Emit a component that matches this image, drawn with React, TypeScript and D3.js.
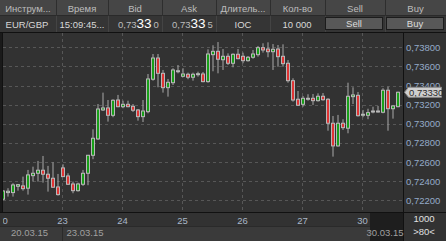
import React from "react";
import * as d3 from "d3";

const openP = [0.72212,0.72281,0.72281,0.72347,0.72351,0.72327,0.72458,0.72483,0.72515,0.72473,0.72431,0.72340,0.72539,0.72455,0.72371,0.72301,0.72368,0.72483,0.72671,0.72842,0.73145,0.73166,0.73089,0.73249,0.73179,0.73204,0.73183,0.73145,0.73075,0.73127,0.73466,0.73688,0.73528,0.73378,0.73430,0.73552,0.73497,0.73518,0.73487,0.73518,0.73521,0.73441,0.73723,0.73758,0.73670,0.73706,0.73633,0.73727,0.73706,0.73660,0.73696,0.73723,0.73796,0.73782,0.73754,0.73782,0.73706,0.73633,0.73451,0.73257,0.73204,0.73263,0.73267,0.73242,0.73288,0.73257,0.73006,0.72769,0.73006,0.72954,0.73284,0.73298,0.73096,0.73089,0.73127,0.73127,0.73121,0.73351,0.73158,0.73179];
const highP = [0.72305,0.72327,0.72379,0.72371,0.72448,0.72518,0.72552,0.72612,0.72664,0.72560,0.72598,0.72476,0.72577,0.72483,0.72396,0.72385,0.72518,0.72675,0.72943,0.73207,0.73326,0.73249,0.73257,0.73302,0.73242,0.73242,0.73207,0.73155,0.73249,0.73521,0.73730,0.73730,0.73563,0.73469,0.73581,0.73615,0.73581,0.73535,0.73535,0.73545,0.73542,0.73779,0.73821,0.73855,0.73782,0.73737,0.73737,0.73782,0.73744,0.73709,0.73772,0.73814,0.73842,0.73852,0.73834,0.73824,0.73831,0.73667,0.73476,0.73343,0.73291,0.73309,0.73312,0.73319,0.73322,0.73267,0.73082,0.73093,0.73048,0.73430,0.73382,0.73333,0.73145,0.73158,0.73179,0.73187,0.73372,0.73388,0.73197,0.73336];
const lowP = [0.72200,0.72239,0.72239,0.72301,0.72301,0.72260,0.72396,0.72396,0.72385,0.72291,0.72333,0.72249,0.72445,0.72361,0.72274,0.72291,0.72351,0.72358,0.72630,0.72831,0.73134,0.73023,0.73069,0.73173,0.73163,0.73173,0.73124,0.73033,0.73019,0.73110,0.73451,0.73382,0.73326,0.73284,0.73406,0.73528,0.73487,0.73466,0.73451,0.73493,0.73434,0.73430,0.73549,0.73528,0.73563,0.73615,0.73591,0.73675,0.73633,0.73650,0.73681,0.73702,0.73744,0.73696,0.73563,0.73597,0.73597,0.73430,0.73232,0.73187,0.73179,0.73242,0.73197,0.73232,0.73242,0.72928,0.72657,0.72761,0.72936,0.72901,0.73207,0.73075,0.73069,0.73048,0.73110,0.73117,0.73110,0.72928,0.73054,0.73173];
const closeP = [0.72298,0.72295,0.72361,0.72364,0.72322,0.72466,0.72483,0.72515,0.72473,0.72431,0.72337,0.72260,0.72448,0.72368,0.72301,0.72371,0.72483,0.72671,0.72849,0.73155,0.73166,0.73089,0.73246,0.73179,0.73204,0.73179,0.73142,0.73075,0.73134,0.73469,0.73688,0.73528,0.73378,0.73434,0.73563,0.73555,0.73521,0.73487,0.73518,0.73524,0.73441,0.73730,0.73758,0.73675,0.73706,0.73633,0.73727,0.73681,0.73660,0.73696,0.73730,0.73796,0.73772,0.73754,0.73779,0.73702,0.73629,0.73451,0.73249,0.73194,0.73267,0.73267,0.73242,0.73288,0.73252,0.73006,0.72769,0.73006,0.72960,0.73288,0.73302,0.73085,0.73100,0.73117,0.73134,0.73134,0.73351,0.73158,0.73187,0.73330];

const priceTicks = [0.722, 0.724, 0.726, 0.728, 0.73, 0.732, 0.734, 0.736, 0.738];
const dayLabels = ["20", "23", "24", "25", "26", "27", "30"];
const dayStartIndex = [0, 12, 24, 36, 48, 60, 72];
const dateLabels = ["20.03.15", "23.03.15", "30.03.15"];
const dateIndex = [0, 12, 72];
const lastPrice = 0.7333;

const headerCols = ["Инструм...", "Время", "Bid", "Ask", "Длитель...", "Кол-во", "Sell", "Buy"];
const colEdges = [0, 56, 108, 162, 216, 270, 325, 385, 446];

const W = 446, H = 241;
const L = 3, R = 403, T = 33, B = 212;
const FONT = "'Liberation Sans', Arial, sans-serif";

export default function App() {
  const n = closeP.length;
  const x = d3.scaleLinear().domain([0, n]).range([L, R + 0]);
  const cx = (i: number) => x(i);
  const y = d3.scaleLinear().domain([0.720781, 0.739495]).range([B, T]);
  const fmt = (v: number) => d3.format(".5f")(v).replace(".", ",");
  const gx = (i: number) => Math.round(x(i)) - 0.5;

  const lp = y(lastPrice);

  return (
    <svg width={W} height={H} style={{ position: "absolute", left: 0, top: 0, display: "block" }} fontFamily={FONT}>
      <defs>
        <clipPath id="plot"><rect x={L} y={T} width={R - L} height={B - T} /></clipPath>
        <clipPath id="xax"><rect x={L} y={B} width={R - L} height={H - B} /></clipPath>
      </defs>
      <rect x={0} y={0} width={W} height={H} fill="#1a1a1a" />
      {/* header */}
      <rect x={0} y={0} width={W} height={16} fill="#464646" />
      <rect x={0} y={16} width={W} height={16} fill="#353535" />
      <line x1={0} x2={W} y1={15.5} y2={15.5} stroke="#2a2a2a" />
      {colEdges.slice(1, -1).map((e, k) => (
        <g key={k}>
          <line x1={e + 0.5} x2={e + 0.5} y1={0} y2={16} stroke="#2e2e2e" />
          <line x1={e + 0.5} x2={e + 0.5} y1={16} y2={32} stroke="#444" />
        </g>
      ))}
      {headerCols.map((h, k) => (
        <text key={k} x={(colEdges[k] + colEdges[k + 1]) / 2} y={11.5} fontSize={9.5} fill="#bdbdbd" textAnchor="middle">{h}</text>
      ))}
      <text x={27} y={27.5} fontSize={9.5} fill="#d8d8d8" textAnchor="middle">EUR/GBP</text>
      <text x={82} y={27.5} fontSize={9.5} fill="#d8d8d8" textAnchor="middle">15:09:45...</text>
      <text x={118} y={27.5} fontSize={9.5} fill="#bdbdbd">0,73<tspan fontSize={13.5} fill="#ffffff">33</tspan><tspan dx={2} fill="#bdbdbd">0</tspan></text>
      <text x={172} y={27.5} fontSize={9.5} fill="#bdbdbd">0,73<tspan fontSize={13.5} fill="#ffffff">33</tspan><tspan dx={2} fill="#bdbdbd">5</tspan></text>
      <text x={243} y={27.5} fontSize={9.5} fill="#d8d8d8" textAnchor="middle">IOC</text>
      <text x={297} y={27.5} fontSize={9.5} fill="#d8d8d8" textAnchor="middle">10 000</text>
      <rect x={325.5} y={17.5} width={57} height={12} fill="#585858" stroke="#1c1c1c" />
      <text x={354} y={27} fontSize={9.5} fill="#dcdcdc" textAnchor="middle">Sell</text>
      <rect x={386.5} y={17.5} width={57} height={12} fill="#585858" stroke="#1c1c1c" />
      <text x={415} y={27} fontSize={9.5} fill="#dcdcdc" textAnchor="middle">Buy</text>

      {/* plot background */}
      <rect x={L} y={T} width={R - L} height={B - T} fill="#323232" />
      <rect x={R + 1} y={T} width={W - R - 1} height={B - T} fill="#323232" />
      {/* grid */}
      {priceTicks.map((t, k) => (
        <line key={k} x1={L} x2={R} y1={Math.round(y(t)) + 0.5} y2={Math.round(y(t)) + 0.5} stroke="#575757" strokeDasharray="3,3" />
      ))}
      {dayStartIndex.slice(1).map((d, k) => (
        <line key={k} x1={gx(d)} x2={gx(d)} y1={T} y2={B} stroke="#575757" strokeDasharray="3,3" />
      ))}
      {/* candles */}
      <g clipPath="url(#plot)">
        {closeP.map((c, i) => {
          const o = openP[i];
          const up = c >= o;
          const top = y(Math.max(o, c));
          const bot = y(Math.min(o, c));
          const hgt = Math.max(1, bot - top);
          const xc = cx(i);
          return (
            <g key={i}>
              <line x1={xc} x2={xc} y1={y(highP[i])} y2={y(lowP[i])} stroke="#a8a8a8" strokeWidth={1} />
              <rect x={xc - 1.5} y={top} width={3} height={hgt} fill={up ? "#18a018" : "#e03434"} stroke="#b8b8b8" strokeWidth={1} />
            </g>
          );
        })}
      </g>
      {/* borders */}
      <line x1={R + 0.5} x2={R + 0.5} y1={T} y2={H} stroke="#111" />
      <line x1={0} x2={W} y1={32.5} y2={32.5} stroke="#111" />
      <line x1={0} x2={W} y1={B + 0.5} y2={B + 0.5} stroke="#111" />
      <line x1={L - 0.5} x2={L - 0.5} y1={T} y2={B} stroke="#111" />
      {/* y axis labels */}
      {priceTicks.map((t, k) => (
        <text key={k} x={406} y={y(t) + 3.5} fontSize={9.5} fill="#94aac8">{fmt(t)}</text>
      ))}
      {/* last price tag */}
      <path d={`M404.5,${lp} L408.5,${lp - 5} L441.5,${lp - 5} L441.5,${lp + 5} L408.5,${lp + 5} Z`} fill="#cfcfcf" stroke="#8a8a8a" />
      <text x={409} y={lp + 3.5} fontSize={9.5} fill="#2a2a2a">{fmt(lastPrice)}</text>

      {/* x axis */}
      <rect x={0} y={B + 1} width={R} height={13} fill="#323232" />
      <rect x={0} y={226} width={R} height={H - 226} fill="#3a3a3a" />
      <line x1={0} x2={R} y1={226.5} y2={226.5} stroke="#2a2a2a" />
      <g clipPath="url(#xax)">
        {dayLabels.map((d, k) => (
          <text key={k} x={gx(dayStartIndex[k])} y={223.5} fontSize={9.5} fill="#a9b6c6" textAnchor="middle">{d}</text>
        ))}
      </g>
      <line x1={gx(12)} x2={gx(12)} y1={227} y2={H} stroke="#2a2a2a" />
      <rect x={370} y={B + 1} width={R - 370} height={H - B - 1} fill="#1e1e1e" />
      {dateLabels.map((d, k) => (
        <text key={k} x={k === 0 ? 11 : gx(dateIndex[k]) + 4} y={236} fontSize={9.5} fill="#a0a0a0">{d}</text>
      ))}
      <rect x={R + 1} y={B + 1} width={W - R - 1} height={H - B - 1} fill="#323232" />
      <text x={424} y={222} fontSize={9.5} fill="#e0e0e0" textAnchor="middle">1000</text>
      <text x={424} y={235} fontSize={9.5} fill="#e0e0e0" textAnchor="middle">&gt;80&lt;</text>
    </svg>
  );
}
